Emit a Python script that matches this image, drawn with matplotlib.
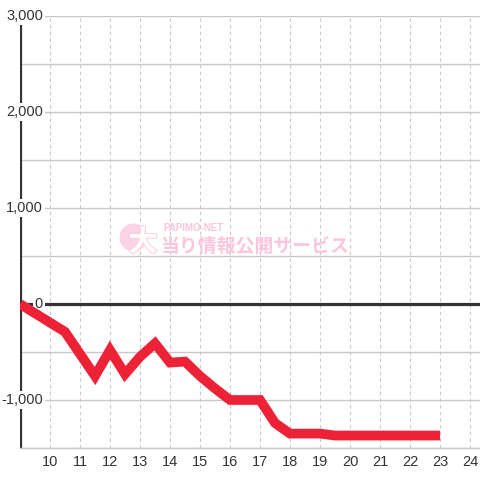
import matplotlib
matplotlib.use('Agg')
import matplotlib.pyplot as plt
import matplotlib.patheffects as pe
from matplotlib.patches import Circle

plt.rcParams['font.family'] = ['Liberation Sans', 'DejaVu Sans']

# hour of day vs. balance
hours  = [9, 10.5, 11.5, 12, 12.5, 13, 13.5, 14, 14.5, 15, 15.5, 16, 17, 17.5, 18, 19, 19.5, 23]
values = [0, -290, -750, -480, -730, -550, -410, -610, -600, -750, -880, -1000,
          -1000, -1240, -1350, -1350, -1370, -1370]

xticks = list(range(10, 25))
ygrid  = list(range(-1500, 3001, 500))
ylabs  = [-1000, 0, 1000, 2000, 3000]

fig = plt.figure(figsize=(4.8, 4.8), dpi=100)
ax = fig.add_axes([20/480, 32/480, 460/480, 432/480])

ax.set_xlim(9, 24.333)
ax.set_ylim(-1500, 3000)

ax.set_yticks(ygrid)
ax.set_xticks(xticks)
ax.tick_params(axis='y', length=0, labelleft=False)
ax.tick_params(axis='x', length=0, pad=5, labelsize=10.5, labelcolor='#333333')
ax.grid(axis='y', color='#c8c8c8', linewidth=1, zorder=0)
ax.grid(axis='x', color='#c8c8c8', linewidth=0.8, linestyle=(0, (3, 3)), zorder=0)
ax.set_axisbelow(True)

for s in ['top', 'right', 'left']:
    ax.spines[s].set_visible(False)
ax.spines['bottom'].set_color('#c8c8c8')
ax.spines['bottom'].set_linewidth(1)

ax.axvline(9, color='#333333', linewidth=2.3, zorder=1)
ax.axhline(0, color='#333333', linewidth=2.3, zorder=1)

ax.plot(hours, values, color='#ee2236', linewidth=7, solid_joinstyle='miter',
        solid_capstyle='butt', zorder=4)

for v in ylabs:
    ax.text(0.05, v, f'{v:,}', transform=ax.get_yaxis_transform(), ha='right',
            va='center', fontsize=10.5, color='#333333', zorder=3,
            bbox=dict(facecolor='white', edgecolor='none', pad=1.2))

# watermark
fig.patches.append(Circle((133.5/480, 1 - 237.5/480), 14/480, transform=fig.transFigure,
                          facecolor='#fcd3e4', edgecolor='none', zorder=5))
fig.text(143/480, 1 - 242/480, '大', family=['Noto Sans CJK JP'], fontweight='bold',
         fontsize=21, color='white', ha='center', va='center', zorder=6,
         path_effects=[pe.withStroke(linewidth=1.5, foreground='#fbd0e2')])
fig.text(163/480, 1 - 228/480, 'PAPIMO-NET', fontsize=7, color='#f8c4da',
         fontweight='bold', ha='left', va='center', zorder=6)
fig.text(161/480, 1 - 246/480, '当り情報公開サービス', family=['Noto Sans CJK JP'],
         fontweight='bold', fontsize=13.6, color='#fbc6dd', ha='left', va='center', zorder=6)

fig.savefig('out.png', dpi=100)
